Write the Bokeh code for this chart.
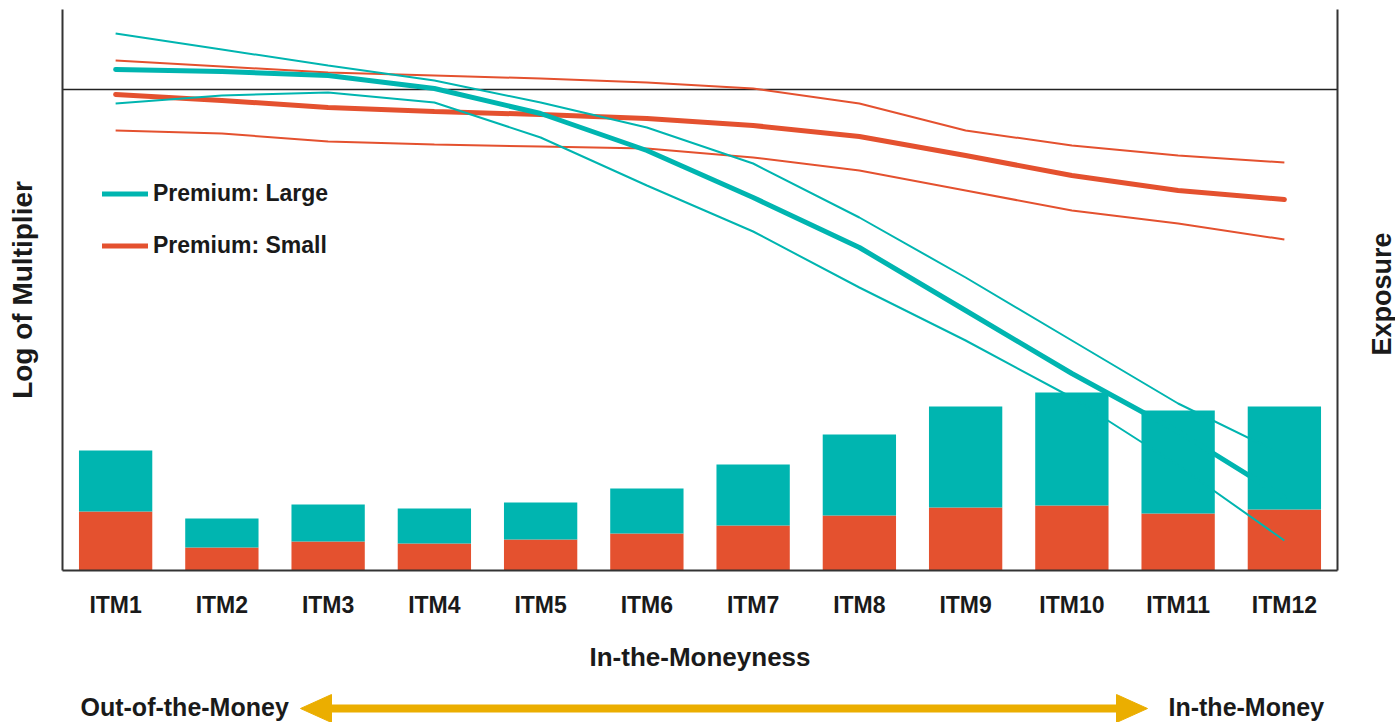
import math
from bokeh.plotting import figure
from bokeh.layouts import column, row
from bokeh.models import (FactorRange, Range1d, LinearAxis, Span, Legend, LegendItem,
                          ColumnDataSource, FixedTicker)
from bokeh.core.properties import value
from bokeh.embed import file_html
from bokeh.resources import INLINE

categories = ["ITM1", "ITM2", "ITM3", "ITM4", "ITM5", "ITM6",
              "ITM7", "ITM8", "ITM9", "ITM10", "ITM11", "ITM12"]

# Exposure (stacked bars)
exposure_small = [5.9, 2.3, 2.9, 2.7, 3.1, 3.7, 4.5, 5.5, 6.3, 6.5, 5.7, 6.1]
exposure_large = [6.1, 2.9, 3.7, 3.5, 3.7, 4.5, 6.1, 8.1, 10.1, 11.3, 10.3, 10.3]

# Log of multiplier (lines)
large_mid = [0.20, 0.18, 0.14, 0.01, -0.24, -0.61, -1.08, -1.58, -2.21, -2.84, -3.42, -4.08]
large_hi = [0.56, 0.40, 0.24, 0.09, -0.13, -0.38, -0.74, -1.28, -1.88, -2.51, -3.14, -3.66]
large_lo = [-0.14, -0.06, -0.03, -0.13, -0.48, -0.96, -1.42, -1.98, -2.51, -3.08, -3.76, -4.51]
small_mid = [-0.05, -0.11, -0.18, -0.22, -0.25, -0.29, -0.36, -0.47, -0.66, -0.86, -1.01, -1.10]
small_hi = [0.29, 0.23, 0.17, 0.14, 0.11, 0.07, 0.01, -0.14, -0.41, -0.56, -0.66, -0.73]
small_lo = [-0.41, -0.44, -0.52, -0.55, -0.57, -0.59, -0.68, -0.81, -1.01, -1.21, -1.34, -1.50]

# direction labels under the chart
direction_labels = ["Out-of-the-Money", "In-the-Money"]

TEAL = "#00B5B0"
ORANGE = "#E4512F"
GOLD = "#EBAE00"
AXIS = "#333333"
TXT = "#1a1a1a"
FONT = "Liberation Sans"

p = figure(x_range=FactorRange(*categories), y_range=Range1d(-4.81, 0.80),
           width=1340, height=684, output_backend="svg", toolbar_location=None,
           min_border_left=62, min_border_right=3, min_border_top=9, min_border_bottom=114)
p.extra_y_ranges = {"exp": Range1d(0, 56.1)}
p.grid.visible = False
p.outline_line_color = None

src = ColumnDataSource(dict(cat=categories, small=exposure_small, large=exposure_large))
p.vbar_stack(["small", "large"], x="cat", width=0.69, color=[ORANGE, TEAL],
             line_color=None, source=src, y_range_name="exp")

zero = Span(location=0, dimension="width", line_color="#222222", line_width=1.5, level="underlay")
p.add_layout(zero)

p.line(categories, small_hi, line_color=ORANGE, line_width=2)
p.line(categories, small_lo, line_color=ORANGE, line_width=2)
r_small = p.line(categories, small_mid, line_color=ORANGE, line_width=5, line_cap="round")
p.line(categories, large_hi, line_color=TEAL, line_width=2)
p.line(categories, large_lo, line_color=TEAL, line_width=2)
r_large = p.line(categories, large_mid, line_color=TEAL, line_width=5, line_cap="round")

# axes
xa = p.xaxis[0]
xa.axis_line_color = AXIS
xa.axis_line_width = 2
xa.major_tick_line_color = None
xa.major_tick_out = 0
xa.major_tick_in = 0
xa.major_label_standoff = 21
xa.major_label_text_font = FONT
xa.major_label_text_font_size = "23px"
xa.major_label_text_font_style = "bold"
xa.major_label_text_color = TXT
xa.axis_label = "In-the-Moneyness"
xa.axis_label_text_font = FONT
xa.axis_label_text_font_size = "26px"
xa.axis_label_text_font_style = "bold"
xa.axis_label_text_color = TXT
xa.axis_label_standoff = 21

ya = p.yaxis[0]
ya.ticker = FixedTicker(ticks=[])
ya.axis_line_color = AXIS
ya.axis_line_width = 2
ya.major_tick_out = 0
ya.major_tick_in = 0
ya.minor_tick_out = 0
ya.minor_tick_in = 0
ya.axis_label = "Log of Multiplier"
ya.axis_label_text_font = FONT
ya.axis_label_text_font_size = "28px"
ya.axis_label_text_font_style = "bold"
ya.axis_label_text_color = TXT
ya.axis_label_standoff = 25

# right axis (exposure scale, no ticks)
ra = LinearAxis(y_range_name="exp", ticker=FixedTicker(ticks=[]))
ra.axis_line_color = AXIS
ra.axis_line_width = 2
ra.major_tick_out = 0
ra.major_tick_in = 0
ra.minor_tick_out = 0
ra.minor_tick_in = 0
p.add_layout(ra, "right")

legend = Legend(items=[LegendItem(label="Premium: Large", renderers=[r_large]),
                       LegendItem(label="Premium: Small", renderers=[r_small])],
                location=(40, 311), padding=0, margin=0, spacing=25,
                glyph_width=46, glyph_height=25, label_height=25, label_standoff=5,
                label_text_font=FONT, label_text_font_size="23px",
                label_text_font_style="bold", label_text_color=TXT,
                border_line_color=None, background_fill_alpha=0)
p.add_layout(legend)

# direction strip under the chart (its frame is aligned with the chart frame)
p2 = figure(width=1340, height=38, x_range=Range1d(62, 1337), y_range=Range1d(0, 38),
            output_backend="svg", toolbar_location=None, min_border=0)
p2.axis.visible = False
p2.grid.visible = False
p2.outline_line_color = None
p2.segment(x0=[326], y0=[14], x1=[1121], y1=[14], line_color=GOLD, line_width=8)
p2.patches(xs=[[300, 331, 331], [1147, 1116, 1116]], ys=[[14, 28, 0], [14, 28, 0]],
           fill_color=GOLD, line_color=GOLD, line_width=1)
p2.text(x=[80, 1168], y=[16, 16], text=direction_labels, text_baseline="middle",
        text_align="left", text_font=value(FONT), text_font_size="25px",
        text_font_style="bold", text_color=TXT)

# right-hand title strip for the exposure axis
p3 = figure(width=55, height=722, x_range=Range1d(1340, 1395), y_range=Range1d(570, 9),
            output_backend="svg", toolbar_location=None,
            min_border_left=0, min_border_right=0, min_border_top=9, min_border_bottom=152)
p3.axis.visible = False
p3.grid.visible = False
p3.outline_line_color = None
p3.text(x=[1381], y=[293.5], text=["Exposure"], angle=math.pi / 2,
        text_align="center", text_baseline="middle", text_font=value(FONT),
        text_font_size="27px", text_font_style="bold", text_color=TXT)

layout = row(column(p, p2, spacing=0), p3, spacing=0)
open("out.html", "w").write(file_html(layout, INLINE))
